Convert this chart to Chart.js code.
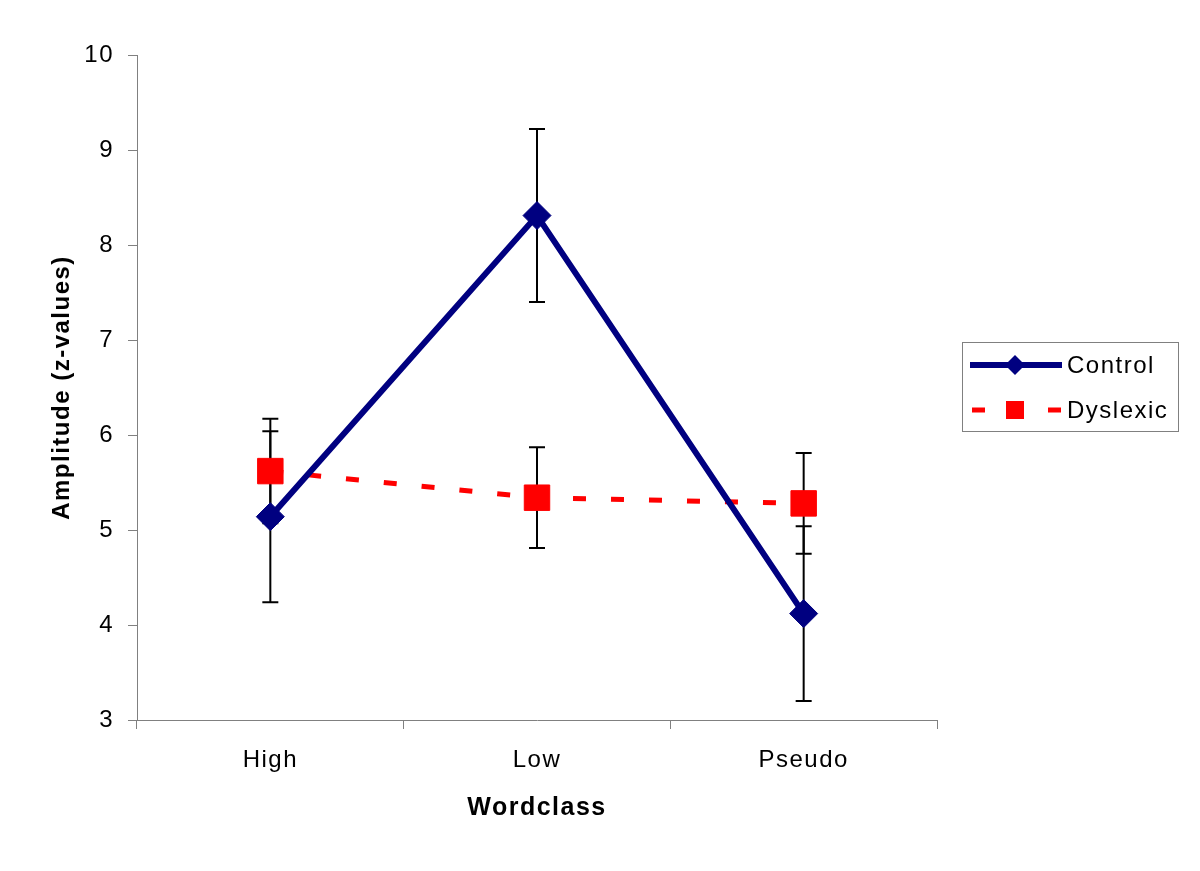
<!DOCTYPE html>
<html>
<head>
<meta charset="utf-8">
<title>Amplitude by wordclass</title>
<script src="https://cdn.jsdelivr.net/npm/chart.js@4/dist/chart.umd.min.js"></script>
<style>
  body { margin: 0; background: #fff; }
  #wrap { width: 1200px; height: 871px; position: relative; }
</style>
</head>
<body>
<div id="wrap"><canvas id="myChart"></canvas></div>
<script>
// data
const categories = ["High", "Low", "Pseudo"];
const controlValues = [5.14, 8.31, 4.12];
const controlErr = [0.9, 0.91, 0.92];
const dyslexicValues = [5.62, 5.34, 5.28];
const dyslexicErr = [0.55, 0.53, 0.53];
const yTicks = [3, 4, 5, 6, 7, 8, 9, 10];

const errors = [controlErr, dyslexicErr];

const FONT = "'Liberation Sans', Arial, sans-serif";

// the original text is spaced out a little wider than the canvas default
const spacing = {
  id: "spacing",
  beforeDraw(chart) {
    chart.ctx.letterSpacing = "1.5px";
  }
};

// error bars go under the lines and markers
const errorBars = {
  id: "errorBars",
  beforeDatasetsDraw(chart) {
    const ctx = chart.ctx;
    const xs = chart.scales.x;
    const ys = chart.scales.y;
    ctx.save();
    ctx.strokeStyle = "#000";
    ctx.lineWidth = 2;
    chart.data.datasets.forEach((ds, d) => {
      ds.data.forEach((v, i) => {
        const e = errors[d][i];
        const x = xs.getPixelForValue(i);
        const top = ys.getPixelForValue(v + e);
        const bot = ys.getPixelForValue(v - e);
        ctx.beginPath();
        ctx.moveTo(x, top);
        ctx.lineTo(x, bot);
        ctx.moveTo(x - 8, top);
        ctx.lineTo(x + 8, top);
        ctx.moveTo(x - 8, bot);
        ctx.lineTo(x + 8, bot);
        ctx.stroke();
      });
    });
    ctx.restore();
  }
};

function drawMarker(ctx, style, x, y, r, color) {
  ctx.fillStyle = color;
  ctx.beginPath();
  if (style == "rectRot") {
    ctx.moveTo(x - r, y);
    ctx.lineTo(x, y - r);
    ctx.lineTo(x + r, y);
    ctx.lineTo(x, y + r);
  } else {
    ctx.rect(x - r, y - r, 2 * r, 2 * r);
  }
  ctx.closePath();
  ctx.fill();
}

// legend box with line + marker samples, to the right of the plot
const sideLegend = {
  id: "sideLegend",
  afterDraw(chart) {
    const ctx = chart.ctx;
    const area = chart.chartArea;
    const left = area.right + 25;
    const top = 342;
    const w = 216;
    const h = 89;
    ctx.save();
    ctx.fillStyle = "#fff";
    ctx.fillRect(left, top, w, h);
    ctx.strokeStyle = "#808080";
    ctx.lineWidth = 1;
    ctx.strokeRect(left + 0.5, top + 0.5, w, h);

    chart.data.datasets.forEach((ds, i) => {
      const y = top + 23 + i * 45;
      ctx.strokeStyle = ds.borderColor;
      ctx.lineWidth = ds.borderWidth;
      ctx.setLineDash(ds.borderDash || []);
      ctx.lineDashOffset = ds.borderDash ? -2 : 0;
      ctx.beginPath();
      ctx.moveTo(left + 8, y);
      ctx.lineTo(left + 100, y);
      ctx.stroke();
      ctx.setLineDash([]);
      drawMarker(ctx, ds.pointStyle, left + 53, y, ds.pointStyle == "rectRot" ? 10 : 9, ds.pointBackgroundColor);

      ctx.fillStyle = "#000";
      ctx.font = "24px " + FONT;
      ctx.textAlign = "left";
      ctx.textBaseline = "middle";
      ctx.fillText(ds.label, left + 105, y + 1);
    });
    ctx.restore();
  }
};

const myChart = new Chart("myChart", {
  type: "line",
  data: {
    labels: categories,
    datasets: [
      {
        label: "Control",
        data: controlValues,
        borderColor: "#000080",
        borderWidth: 6,
        pointStyle: "rectRot",
        pointRadius: 14,
        pointBackgroundColor: "#000080",
        pointBorderColor: "#000080",
        pointBorderWidth: 1,
        fill: false,
        tension: 0
      },
      {
        label: "Dyslexic",
        data: dyslexicValues,
        borderColor: "#ff0000",
        borderWidth: 5,
        borderDash: [13, 25],
        pointStyle: "rect",
        pointRadius: 18,
        pointBackgroundColor: "#ff0000",
        pointBorderColor: "#ff0000",
        pointBorderWidth: 1,
        fill: false,
        tension: 0
      }
    ]
  },
  options: {
    responsive: true,
    maintainAspectRatio: false,
    animation: false,
    layout: { padding: { left: 0, top: 55, right: 263, bottom: 0 } },
    plugins: {
      legend: { display: false },
      tooltip: { enabled: false }
    },
    scales: {
      x: {
        offset: true,
        grid: {
          offset: true,
          drawOnChartArea: false,
          drawTicks: true,
          tickLength: 9,
          color: "#808080"
        },
        border: { color: "#808080", width: 1 },
        ticks: {
          color: "#000",
          padding: 17,
          font: { family: FONT, size: 24 }
        },
        title: {
          display: true,
          text: "Wordclass",
          color: "#000",
          font: { family: FONT, size: 25, weight: "bold" },
          padding: { top: 0, bottom: 48 }
        },
        afterFit(scale) {
          scale.height = 151;
        }
      },
      y: {
        min: 3,
        max: 10,
        afterBuildTicks(scale) {
          scale.ticks = yTicks.map((v) => ({ value: v }));
        },
        grid: {
          drawOnChartArea: false,
          drawTicks: true,
          tickLength: 9,
          color: "#808080"
        },
        border: { color: "#808080", width: 1 },
        ticks: {
          color: "#000",
          padding: 14,
          font: { family: FONT, size: 24 }
        },
        title: {
          display: true,
          text: "Amplitude (z-values)",
          color: "#000",
          font: { family: FONT, size: 24, weight: "bold" },
          padding: { top: 48, bottom: 0 }
        },
        afterFit(scale) {
          scale.width = 137;
        }
      }
    }
  },
  plugins: [spacing, errorBars, sideLegend]
});
</script>
</body>
</html>
